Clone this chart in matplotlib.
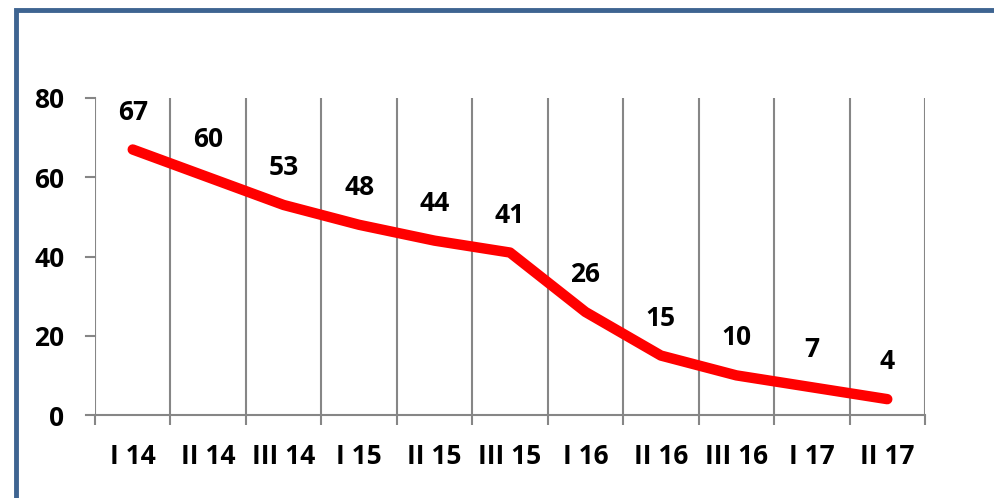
import matplotlib.pyplot as plt
from matplotlib.patches import Rectangle

# data
periods = ['I 14', 'II 14', 'III 14', 'I 15', 'II 15', 'III 15',
           'I 16', 'II 16', 'III 16', 'I 17', 'II 17']
values = [67, 60, 53, 48, 44, 41, 26, 15, 10, 7, 4]
y_ticks = [0, 20, 40, 60, 80]

W, H = 994, 498
fig = plt.figure(figsize=(W / 100, H / 100), dpi=100)
fig.patch.set_facecolor('white')

# blue frame (runs off the right and bottom edges)
fig.patches.append(Rectangle((16 / W, -0.2), 1.2, 1 - 10 / H + 0.2,
                             transform=fig.transFigure, fill=False,
                             edgecolor='#3E6491', linewidth=3.5))

ax = fig.add_axes([95 / W, 1 - 415 / H, (925 - 95) / W, (415 - 98) / H])
grid_col = '#868686'
n = len(periods)
x = [i + 0.5 for i in range(n)]

ax.set_xlim(0, n)
ax.set_ylim(0, 80)

# vertical gridlines at category boundaries
for b in range(n + 1):
    ax.axvline(b, color=grid_col, linewidth=1.5, zorder=1)

ax.plot(x, values, color='#FF0000', linewidth=7.5, solid_capstyle='round',
        solid_joinstyle='round', zorder=3)

font = 'Open Sans'
fs = 19
for xi, v in zip(x, values):
    ax.annotate(str(v), (xi, v), xytext=(0, 27), textcoords='offset points',
                ha='center', va='center', fontsize=fs, fontweight='bold',
                family=font, color='black')

for s in ['top', 'right', 'left']:
    ax.spines[s].set_visible(False)
ax.spines['bottom'].set_color(grid_col)
ax.spines['bottom'].set_linewidth(1.5)

ax.set_yticks(y_ticks)
ax.set_yticklabels([str(t) for t in y_ticks], fontsize=fs, fontweight='bold', family=font)
ax.tick_params(axis='y', length=0, pad=22)
# small y tick marks drawn as left stubs
for t in y_ticks:
    ax.plot([-0.12, 0], [t, t], color=grid_col, linewidth=1.5, clip_on=False, zorder=2)

ax.set_xticks(range(n + 1), minor=False)
ax.set_xticklabels([''] * (n + 1))
ax.tick_params(axis='x', length=7, width=1.5, color=grid_col, direction='out')
ax.set_xticks(x, minor=True)
ax.set_xticklabels(periods, minor=True, fontsize=fs, fontweight='bold', family=font)
ax.tick_params(axis='x', which='minor', length=0, pad=20)

fig.savefig('out.png', dpi=100)
